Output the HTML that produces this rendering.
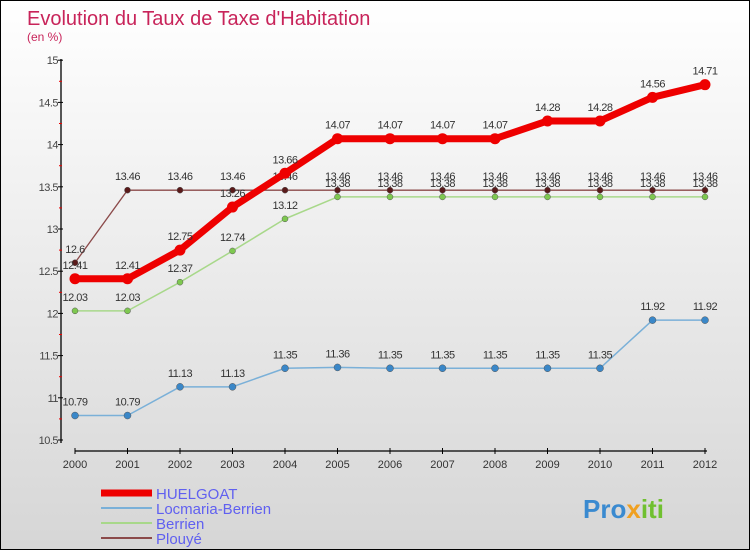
<!DOCTYPE html>
<html><head><meta charset="utf-8"><style>
body{margin:0}
#c{width:748px;height:548px;border:1px solid #000;background:linear-gradient(#fff,#d6d6d6);position:relative;font-family:"Liberation Sans",sans-serif;overflow:hidden}
</style></head><body>
<div id="c">
<svg width="748" height="548">
<text x="26" y="24" font-size="20" fill="#c8245a">Evolution du Taux de Taxe d'Habitation</text>
<text x="26" y="40" font-size="12" fill="#c8245a">(en %)</text>
<g id="axes"></g><g id="series"></g><g id="legend"></g>
<text x="582" y="517" font-size="26" font-weight="bold" fill="#3a8ad0">Pro<tspan fill="#f0a020">x</tspan><tspan fill="#70c030">iti</tspan></text>
</svg></div>
<script>
const years=[2000,2001,2002,2003,2004,2005,2006,2007,2008,2009,2010,2011,2012];
const yTicks=[10.5,11,11.5,12,12.5,13,13.5,14,14.5,15];
const huelgoat=[12.41,12.41,12.75,13.26,13.66,14.07,14.07,14.07,14.07,14.28,14.28,14.56,14.71];
const locmaria=[10.79,10.79,11.13,11.13,11.35,11.36,11.35,11.35,11.35,11.35,11.35,11.92,11.92];
const berrien=[12.03,12.03,12.37,12.74,13.12,13.38,13.38,13.38,13.38,13.38,13.38,13.38,13.38];
const plouye=[12.6,13.46,13.46,13.46,13.46,13.46,13.46,13.46,13.46,13.46,13.46,13.46,13.46];
const NS='http://www.w3.org/2000/svg';
const X=i=>74+i*52.5, Y=v=>439-(v-10.5)*84.4;
function mk(t,a,p){const e=document.createElementNS(NS,t);for(const k in a)e.setAttribute(k,a[k]);p.appendChild(e);return e;}
const ax=document.getElementById('axes');
let l=mk('line',{x1:60,y1:58,x2:60,y2:442,stroke:'#000','stroke-width':1.3},ax);

l=mk('line',{x1:74,y1:450,x2:706,y2:450,stroke:'#000','stroke-width':1.3},ax);

yTicks.forEach((v,i)=>{mk('line',{x1:57,x2:62,y1:Y(v),y2:Y(v),stroke:'#000'},ax);
 if(i<yTicks.length-1)mk('line',{x1:58,x2:61,y1:Y(v+0.25),y2:Y(v+0.25),stroke:'#e00'},ax);
 const t=mk('text',{x:57,y:Y(v)+4,'font-size':11,fill:'#444','text-anchor':'end','letter-spacing':'-0.5'},ax);t.textContent=v;
 });
years.forEach((y,i)=>{mk('line',{x1:X(i),x2:X(i),y1:447,y2:453,stroke:'#000'},ax);
 const t=mk('text',{x:X(i),y:467,'font-size':11,fill:'#333','text-anchor':'middle'},ax);t.textContent=y;
 });
const S=[['plouye',plouye,'#8b4a4a','#5a1a1a',1.3,3],['berrien',berrien,'#a8d88a','#7ec850',1.5,3],['locmaria',locmaria,'#7ab0d8','#3a87c8',1.5,3.5],['huelgoat',huelgoat,'#ee0000','#ee0000',7,5.5]];
const sg=document.getElementById('series');
S.forEach(([n,d,lc,dc,w,r])=>{const g=mk('g',{},sg);
 const p=mk('polyline',{points:d.map((v,i)=>X(i)+','+Y(v)).join(' '),fill:'none',stroke:lc,'stroke-width':w,'stroke-linejoin':'round'},g);
 
 d.forEach((v,i)=>{const c=mk('circle',{cx:X(i),cy:Y(v),r:r,fill:dc,stroke:'#555','stroke-width':n=='huelgoat'?0:0.5},g);
  
  const t=mk('text',{x:X(i),y:Y(v)-10,'font-size':11,fill:'#333','text-anchor':'middle','letter-spacing':'-0.5'},g);t.textContent=v;
  });});
const lg=document.getElementById('legend');
[['HUELGOAT','#ee0000',7],['Locmaria-Berrien','#7ab0d8',2],['Berrien','#a8d88a',2],['Plouyé','#8b4a4a',2]].forEach(([n,c,w],i)=>{
 const y=492+i*15;const g=mk('g',{},lg);
 mk('line',{x1:100,x2:151,y1:y,y2:y,stroke:c,'stroke-width':w},g);
 const t=mk('text',{x:155,y:y+6,'font-size':15,fill:'#6060f0'},g);t.textContent=n;});
</script></body></html>
